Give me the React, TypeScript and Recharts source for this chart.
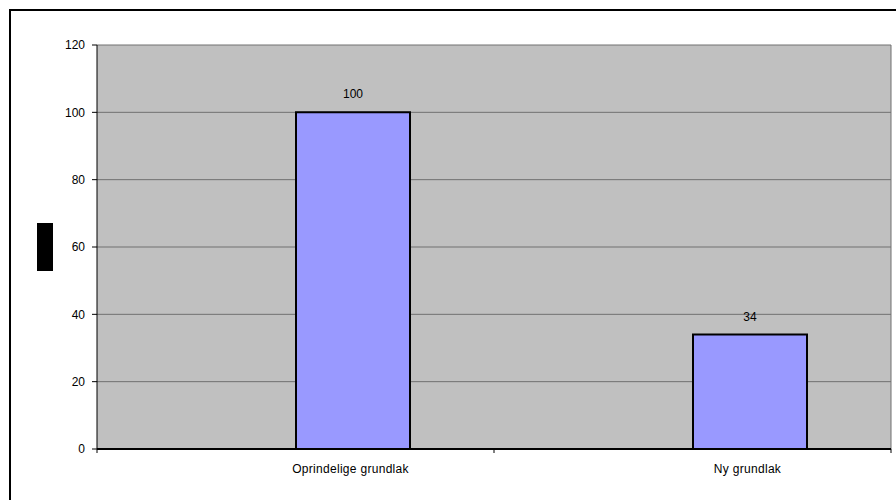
import { BarChart, Bar, XAxis, YAxis, CartesianGrid, LabelList, Label } from 'recharts';

const categories = ['Oprindelige grundlak', 'Ny grundlak'];
const values = [100, 34];
const emptySeries = [null, null];
const yTicks = [0, 20, 40, 60, 80, 100, 120];

const data = categories.map((name, i) => ({ name, blank: emptySeries[i], value: values[i] }));

const PLOT_LEFT = 97;
const PLOT_RIGHT = 891;
const BAND = (PLOT_RIGHT - PLOT_LEFT) / categories.length;

// tick marks sit on category boundaries, labels are pushed right like the original
function CategoryTick(props: any) {
  const { x, y, payload, index } = props;
  const axisY = y - 8;
  return (
    <g>
      {index === 0 && <line x1={x - BAND / 2} y1={axisY} x2={x - BAND / 2} y2={axisY + 4} stroke="#000" />}
      <line x1={x + BAND / 2} y1={axisY} x2={x + BAND / 2} y2={axisY + 4} stroke="#000" />
      <text x={x + 55} y={y + 16} textAnchor="middle" fontSize={12} letterSpacing={0.3} fill="#000">
        {payload.value}
      </text>
    </g>
  );
}

function AxisTitleBlock() {
  return <rect x={37} y={223} width={16} height={48} fill="#000" />;
}

export default function App() {
  return (
    <div style={{ position: 'absolute', left: 0, top: 0, width: 896, height: 500, overflow: 'hidden', background: '#fff', fontFamily: '"Liberation Sans", Arial, sans-serif' }}>
      <div style={{ position: 'absolute', left: 9, top: 9, width: 900, height: 500, border: '2px solid #000' }} />
      <div style={{ position: 'absolute', left: 0, top: 0 }}>
        <BarChart
          width={896}
          height={500}
          data={data}
          margin={{ top: 45, right: 896 - PLOT_RIGHT, bottom: 21, left: 0 }}
          barGap={0}
          barSize={114}
        >
          <CartesianGrid
            stroke="#707070"
            fill="#c0c0c0"
            verticalCoordinatesGenerator={({ offset }: any) => [offset.left + offset.width]}
          />
          <XAxis
            dataKey="name"
            height={30}
            tickLine={false}
            axisLine={{ stroke: '#000', strokeWidth: 2 }}
            tick={<CategoryTick />}
            interval={0}
          />
          <YAxis
            width={PLOT_LEFT}
            domain={[0, 120]}
            ticks={yTicks}
            interval={0}
            tickSize={5}
            tickMargin={7}
            tickLine={{ stroke: '#000' }}
            axisLine={{ stroke: '#000' }}
            tick={{ fontSize: 12, fill: '#000' }}
          >
            <Label content={<AxisTitleBlock />} />
          </YAxis>
          <Bar dataKey="blank" fill="#9999ff" isAnimationActive={false} />
          <Bar dataKey="value" fill="#9999ff" stroke="#000" strokeWidth={2} isAnimationActive={false}>
            <LabelList dataKey="value" position="top" offset={14} fontSize={12} fill="#000" />
          </Bar>
        </BarChart>
      </div>
    </div>
  );
}
